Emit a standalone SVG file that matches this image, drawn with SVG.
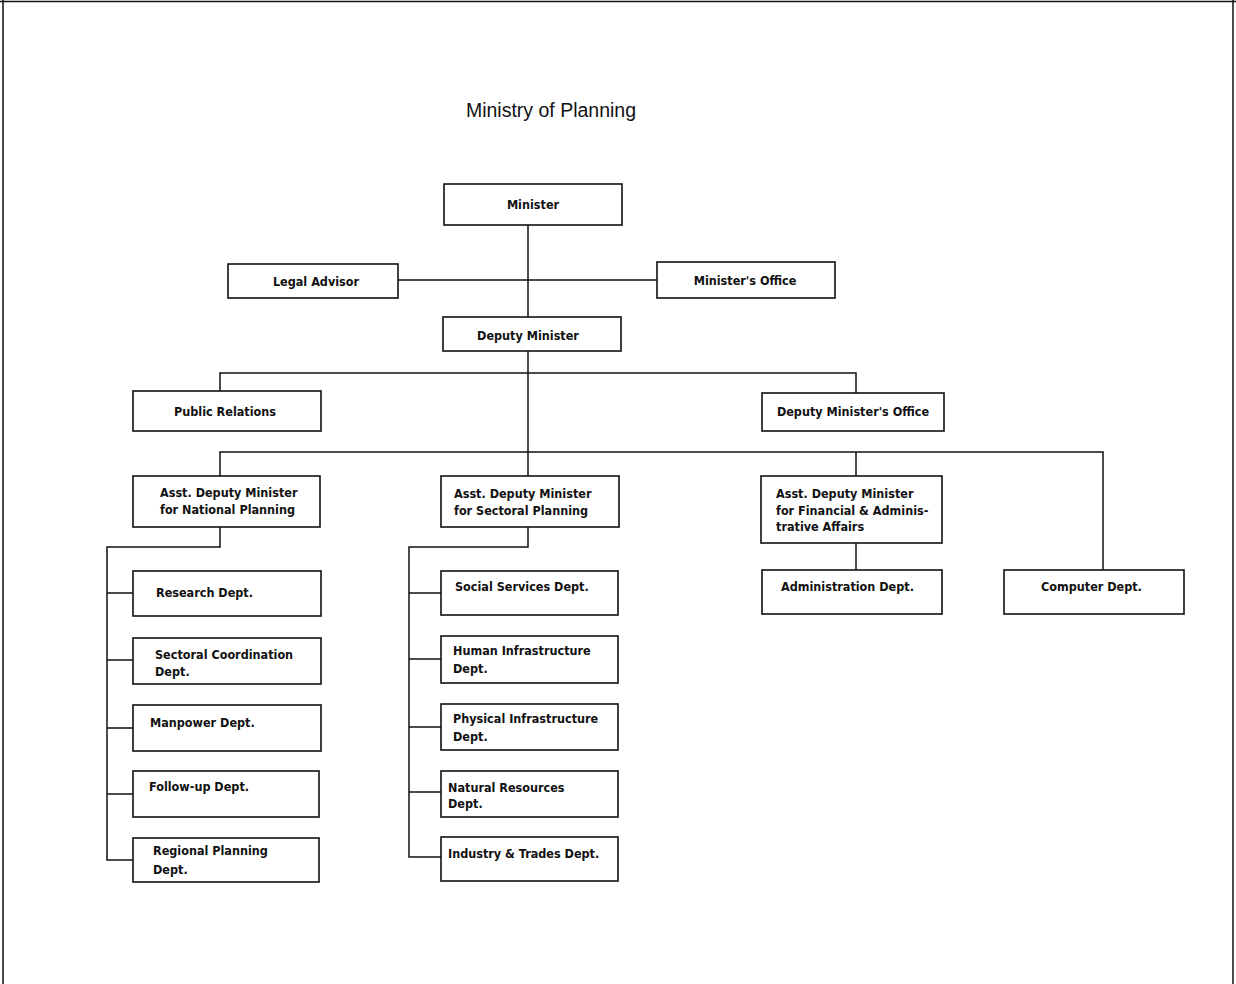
<svg xmlns="http://www.w3.org/2000/svg" width="1236" height="984" viewBox="0 0 1236 984">
<style>
.bx{fill:#fff;stroke:#111;stroke-width:1.6}
.ln{fill:none;stroke:#111;stroke-width:1.5}
.t{font-family:"Liberation Sans Narrow","DejaVu Sans Condensed","DejaVu Sans",sans-serif;font-stretch:condensed;font-weight:bold;font-size:12.5px;fill:#111}
.c{text-anchor:middle}
.title{font-family:"Liberation Sans",Arial,sans-serif;font-size:19.5px;fill:#111}
</style>
<rect x="0" y="0" width="1236" height="984" fill="#fff"/>
<g id="page-border" class="ln">
<path d="M0,1.5 H1236 M3,0 V984 M1233,0 V984"/>
</g>
<text class="title" x="551" y="117" text-anchor="middle">Ministry of Planning</text>
<g id="connectors" class="ln">
<path d="M528,225 V317"/>
<path d="M398,280 H657"/>
<path d="M528,351 V476"/>
<path d="M220,391 V373 H856 V393"/>
<path d="M220,476 V452 H1103 V570"/>
<path d="M856,452 V476"/>
<path d="M856,543 V570"/>
<path d="M220,527 V547 H107 V860 H133"/>
<path d="M107,593 H133 M107,660 H133 M107,728 H133 M107,794 H133"/>
<path d="M528,527 V547 H409 V857 H441"/>
<path d="M409,593 H441 M409,659 H441 M409,727 H441 M409,792 H441"/>
</g>
<g id="minister"><rect class="bx" x="444" y="184" width="178" height="41"/><text class="t c" x="533" y="209">Minister</text></g>
<g id="legal-advisor"><rect class="bx" x="228" y="264" width="170" height="34"/><text class="t c" x="316" y="286">Legal Advisor</text></g>
<g id="ministers-office"><rect class="bx" x="657" y="262" width="178" height="36"/><text class="t c" x="745" y="285">Minister's Office</text></g>
<g id="deputy-minister"><rect class="bx" x="443" y="317" width="178" height="34"/><text class="t c" x="528" y="340">Deputy Minister</text></g>
<g id="public-relations"><rect class="bx" x="133" y="391" width="188" height="40"/><text class="t c" x="225" y="416">Public Relations</text></g>
<g id="deputy-ministers-office"><rect class="bx" x="762" y="393" width="182" height="38"/><text class="t c" x="853" y="416">Deputy Minister's Office</text></g>
<g id="adm-national"><rect class="bx" x="133" y="476" width="187" height="51"/><text class="t" x="160" y="497">Asst. Deputy Minister</text><text class="t" x="160" y="514">for National Planning</text></g>
<g id="adm-sectoral"><rect class="bx" x="441" y="476" width="178" height="51"/><text class="t" x="454" y="498">Asst. Deputy Minister</text><text class="t" x="454" y="515">for Sectoral Planning</text></g>
<g id="adm-financial"><rect class="bx" x="761" y="476" width="181" height="67"/><text class="t" x="776" y="498">Asst. Deputy Minister</text><text class="t" x="776" y="515">for Financial &amp; Adminis-</text><text class="t" x="776" y="531">trative Affairs</text></g>
<g id="administration-dept"><rect class="bx" x="762" y="570" width="180" height="44"/><text class="t" x="781" y="591">Administration Dept.</text></g>
<g id="computer-dept"><rect class="bx" x="1004" y="570" width="180" height="44"/><text class="t" x="1041" y="591">Computer Dept.</text></g>
<g id="research-dept"><rect class="bx" x="133" y="571" width="188" height="45"/><text class="t" x="156" y="597">Research Dept.</text></g>
<g id="sectoral-coordination-dept"><rect class="bx" x="133" y="638" width="188" height="46"/><text class="t" x="155" y="659">Sectoral Coordination</text><text class="t" x="155" y="676">Dept.</text></g>
<g id="manpower-dept"><rect class="bx" x="133" y="705" width="188" height="46"/><text class="t" x="150" y="727">Manpower Dept.</text></g>
<g id="follow-up-dept"><rect class="bx" x="133" y="771" width="186" height="46"/><text class="t" x="149" y="791">Follow-up Dept.</text></g>
<g id="regional-planning-dept"><rect class="bx" x="133" y="838" width="186" height="44"/><text class="t" x="153" y="855">Regional Planning</text><text class="t" x="153" y="874">Dept.</text></g>
<g id="social-services-dept"><rect class="bx" x="441" y="571" width="177" height="44"/><text class="t" x="455" y="591">Social Services Dept.</text></g>
<g id="human-infrastructure-dept"><rect class="bx" x="441" y="636" width="177" height="47"/><text class="t" x="453" y="655">Human Infrastructure</text><text class="t" x="453" y="673">Dept.</text></g>
<g id="physical-infrastructure-dept"><rect class="bx" x="441" y="704" width="177" height="46"/><text class="t" x="453" y="723">Physical Infrastructure</text><text class="t" x="453" y="741">Dept.</text></g>
<g id="natural-resources-dept"><rect class="bx" x="441" y="771" width="177" height="46"/><text class="t" x="448" y="792">Natural Resources</text><text class="t" x="448" y="808">Dept.</text></g>
<g id="industry-trades-dept"><rect class="bx" x="441" y="837" width="177" height="44"/><text class="t" x="448" y="858">Industry &amp; Trades Dept.</text></g>
</svg>
